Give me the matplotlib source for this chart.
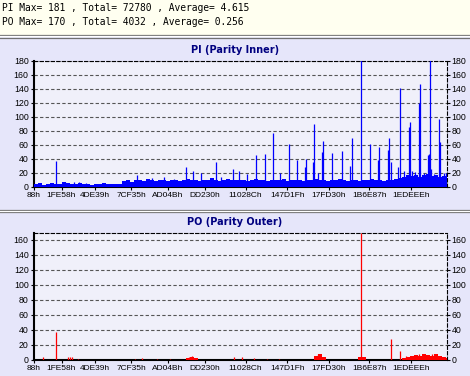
import numpy as np
import matplotlib
matplotlib.use("Agg")
from matplotlib import pyplot as plt
from matplotlib.lines import Line2D
from matplotlib.patches import Rectangle

# header text
pi_info = "PI Max= 181 , Total= 72780 , Average= 4.615"
po_info = "PO Max= 170 , Total= 4032 , Average= 0.256"

# x tick labels (LBA) and their positions along the scan (0..413)
lba_labels = ["88h", "1FE58h", "4DE39h", "7CF35h", "AD04Bh", "DD230h",
              "11028Ch", "147D1Fh", "17FD30h", "1B6E87h", "1EDEEEh"]
lba_pos = [0, 28, 61.5, 97.5, 134.5, 171, 212, 253.5, 295, 335.5, 377]

# PI background level, one value per 4 columns of scan
pi_base = [3, 5, 2, 4, 5, 3, 4, 6, 5, 3, 4, 5, 3, 4, 2, 4, 3, 5, 3, 4, 3, 4,
           8, 9, 7, 10, 9, 8, 11, 9, 8, 10, 9, 8, 9, 10, 8, 9, 11, 9, 10, 8,
           9, 10, 12, 9, 8, 10, 11, 9, 10,
           9, 10, 8, 9, 11, 9, 10, 8, 9, 10, 9, 11, 8, 9, 10, 9, 8, 10, 9, 11,
           10, 9, 8, 9, 10, 11, 9, 8, 10, 9, 8, 9, 10, 11, 9, 10, 8, 9, 10, 11, 12,
           14, 16, 15, 17, 14, 16, 18, 15, 16, 14, 15, 13]

# PI peaks
pi_peak_pos = [22, 31, 40, 45, 52, 103, 118, 130, 140, 152, 159, 167, 182, 187,
               199, 205, 213, 222, 231, 239, 246, 255, 263, 271, 272, 279, 280,
               284, 288, 289, 298, 308, 316, 318, 327, 336, 344, 345, 354, 355,
               357, 364, 366, 370, 375, 376, 378, 381, 385, 386, 390, 394, 395,
               396, 397, 400, 405, 406, 410, 412]
pi_peak_val = [37, 6, 7, 6, 5, 17, 12, 13, 11, 28, 22, 20, 35, 14,
               25, 22, 18, 45, 46, 77, 20, 61, 38, 28, 40, 35, 90,
               20, 49, 65, 48, 51, 30, 69, 181, 61, 38, 57, 52, 70,
               35, 28, 141, 22, 85, 92, 22, 21, 120, 147, 20, 45, 47,
               181, 25, 18, 96, 63, 19, 20]

# PO background level, one value per 4 columns
po_base = [0] * 38 + [2, 4, 2] + [0] * 29 + [5, 7, 4] + [0] * 8 + [4, 3] + [0] * 9 + \
          [2, 4, 5, 6, 5, 7, 6, 5, 7, 5, 4, 2]

# PO peaks
po_peak_pos = [9, 22, 34, 36, 38, 44, 101, 108, 123, 136, 155, 158, 200, 208,
               220, 233, 245, 284, 327, 357, 366, 372, 385, 398]
po_peak_val = [3, 37, 3, 3, 3, 1, 1, 2, 1, 1, 3, 5, 3, 4,
               2, 1, 1, 8, 170, 27, 12, 5, 8, 8]

W, H = 470, 376
fig = plt.figure(figsize=(W / 100, H / 100), dpi=100)
fig.patch.set_facecolor("#E6E6FA")

# header strip and separators
fig.patches.append(Rectangle((0, 1 - 35 / H), 1, 35 / H, transform=fig.transFigure,
                             facecolor="#FFFFF0", edgecolor="none", zorder=0))
for yy in [35, 37.5, 209.5, 212]:
    fig.add_artist(Line2D([0, 1], [1 - yy / H, 1 - yy / H], transform=fig.transFigure,
                          color="#707070", lw=0.9))
fig.add_artist(Line2D([0, 1], [1 - 36.3 / H, 1 - 36.3 / H], transform=fig.transFigure,
                      color="white", lw=0.9))
fig.add_artist(Line2D([0, 1], [1 - 210.8 / H, 1 - 210.8 / H], transform=fig.transFigure,
                      color="white", lw=0.9))

fig.text(2 / W, 1 - 8 / H, pi_info, family="DejaVu Sans Mono", fontsize=6.9, va="center")
fig.text(2 / W, 1 - 22 / H, po_info, family="DejaVu Sans Mono", fontsize=6.9, va="center")


def panel(rect, title, title_y, base, ppos, pval, color, ymax, yticks):
    ax = fig.add_axes(rect)
    ax.set_facecolor("#F0F0FA")
    bx = np.arange(len(base)) * 4
    ax.bar(bx, base, width=4, align="edge", color=color, linewidth=0, zorder=3)
    ax.vlines(ppos, 0, pval, color=color, lw=0.9, zorder=3)
    ax.set_xlim(0, 413)
    ax.set_ylim(0, ymax)
    ax.set_yticks(yticks)
    ax.yaxis.grid(True, linestyle=(0, (3, 2)), color="#555555", lw=0.8, zorder=1)
    ax.tick_params(axis="y", which="both", left=True, right=True, labelleft=True,
                   labelright=True, length=2.5, width=0.8, pad=1, labelsize=6.3)
    ax.set_xticks(lba_pos)
    ax.set_xticklabels(lba_labels)
    ax.tick_params(axis="x", length=2.5, width=0.8, pad=1.5, labelsize=6)
    for lab in ax.get_xticklabels() + ax.get_yticklabels():
        lab.set_family("Liberation Sans")
    for yl in ax.yaxis.get_ticklabels(which="both"):
        yl.set_family("Liberation Sans")
    ax.spines["left"].set_linewidth(1.5)
    ax.spines["bottom"].set_linewidth(1.5)
    for s in ["top", "right"]:
        ax.spines[s].set_linestyle((0, (3, 2)))
        ax.spines[s].set_linewidth(0.8)
    fig.text(0.5, 1 - title_y / H, title, ha="center", va="center", fontsize=7,
             fontweight="bold", color="#000080", family="DejaVu Sans")
    return ax


l, r = 33.5 / W, 446.7 / W
panel([l, 1 - 186.5 / H, r - l, (186.5 - 60.7) / H], "PI (Parity Inner)", 50,
      pi_base, pi_peak_pos, pi_peak_val, "#0000FF", 180, range(0, 181, 20))
panel([l, 1 - 359.5 / H, r - l, (359.5 - 232.5) / H], "PO (Parity Outer)", 222,
      po_base, po_peak_pos, po_peak_val, "#FF0000", 170, range(0, 161, 20))

fig.savefig("out.png", dpi=100)
